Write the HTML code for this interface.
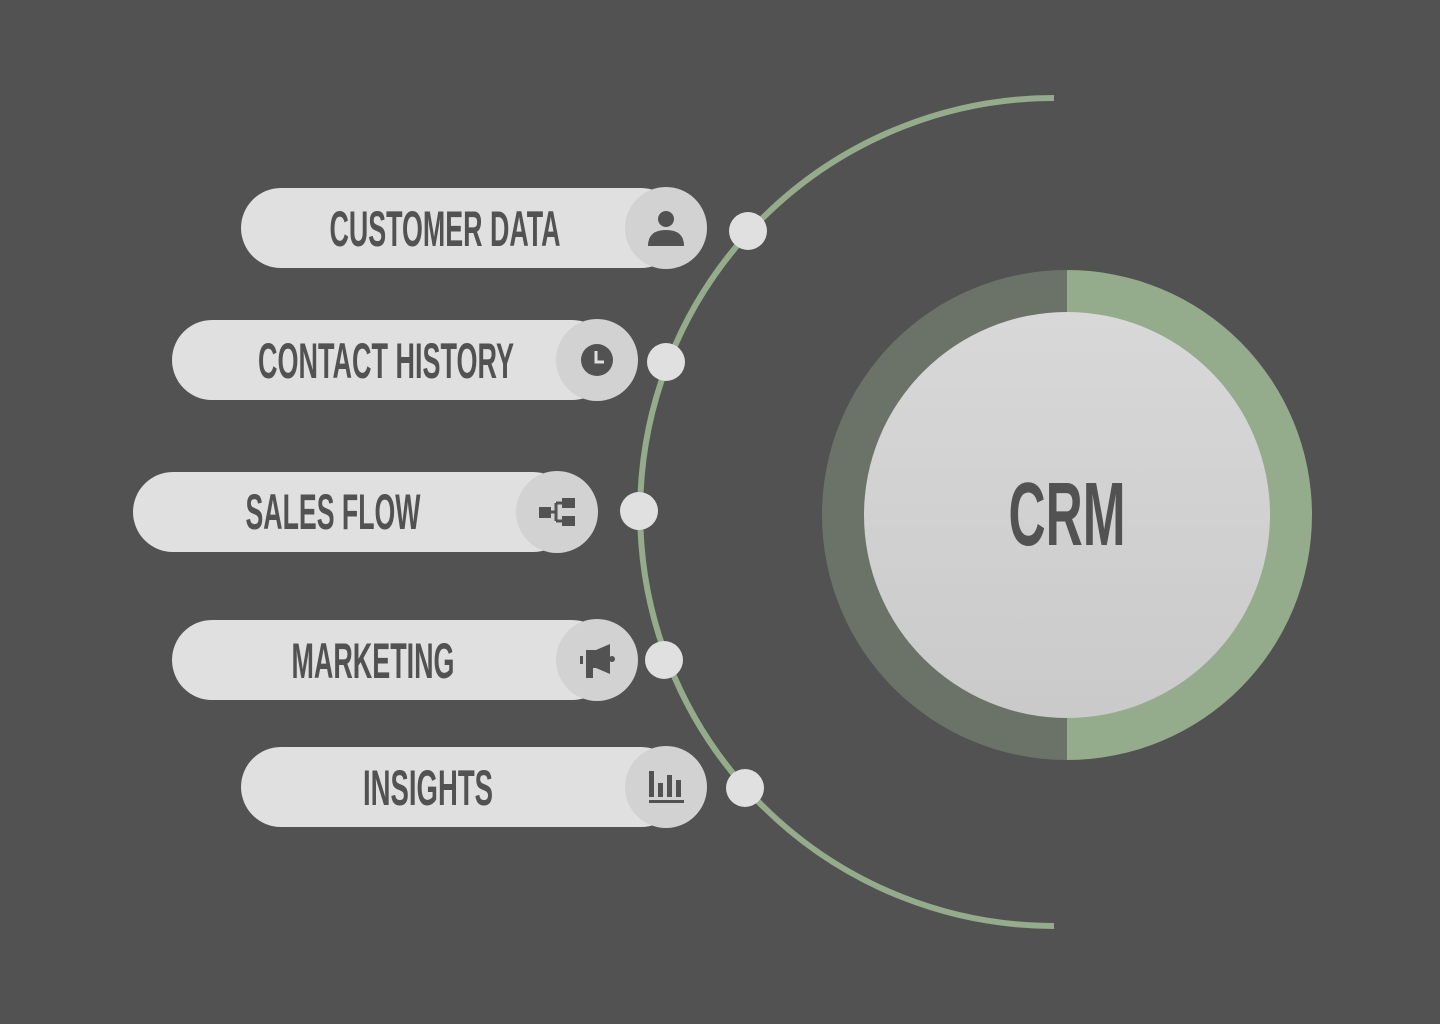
<!DOCTYPE html>
<html><head><meta charset="utf-8"><style>html,body{margin:0;padding:0;background:#525252;}svg{display:block}</style></head>
<body>
<svg width="1440" height="1024" viewBox="0 0 1440 1024" xmlns="http://www.w3.org/2000/svg">
<defs><linearGradient id="g" x1="0" y1="0" x2="0" y2="1"><stop offset="0" stop-color="#d8d8d8"/><stop offset="1" stop-color="#cacaca"/></linearGradient></defs>
<rect width="1440" height="1024" fill="#525252"/>
<path d="M1054 98 A414 414 0 0 0 1054 926" fill="none" stroke="#94ab8c" stroke-width="6"/>
<path d="M1067 270 A245 245 0 0 0 1067 760 Z" fill="#6b7369"/>
<path d="M1067 270 A245 245 0 0 1 1067 760 Z" fill="#94ab8c"/>
<circle cx="1067" cy="515" r="203" fill="url(#g)"/>
<text x="1067" y="545" text-anchor="middle" font-family="Liberation Sans Narrow, Liberation Sans, sans-serif" font-weight="bold" font-size="90" fill="#525252" textLength="117" lengthAdjust="spacingAndGlyphs">CRM</text>
<g font-family="Liberation Sans Narrow, Liberation Sans, sans-serif" font-weight="bold" font-size="50" fill="#525252" text-anchor="middle">
<!-- 1 -->
<rect x="241" y="188" width="440" height="80" rx="40" fill="#e0e0e0"/>
<circle cx="666" cy="228" r="41" fill="#d2d2d2"/>
<circle cx="748" cy="231" r="19" fill="#e0e0e0"/>
<text x="445" y="246" textLength="231" lengthAdjust="spacingAndGlyphs">CUSTOMER DATA</text>
<circle cx="666" cy="219" r="8" fill="#525252"/>
<path d="M648 246 Q648 230 666 230 Q684 230 684 246 Z" fill="#525252"/>
<!-- 2 -->
<rect x="172" y="320" width="440" height="80" rx="40" fill="#e0e0e0"/>
<circle cx="597" cy="360" r="41" fill="#d2d2d2"/>
<circle cx="666" cy="362" r="19" fill="#e0e0e0"/>
<text x="386" y="378" textLength="256" lengthAdjust="spacingAndGlyphs">CONTACT HISTORY</text>
<circle cx="597" cy="360" r="16" fill="#525252"/>
<path d="M596 351 V362 H604" fill="none" stroke="#e0e0e0" stroke-width="3"/>
<!-- 3 -->
<rect x="133" y="472" width="440" height="80" rx="40" fill="#e0e0e0"/>
<circle cx="557" cy="512" r="41" fill="#d2d2d2"/>
<circle cx="639" cy="511" r="19" fill="#e0e0e0"/>
<text x="333" y="529" textLength="175" lengthAdjust="spacingAndGlyphs">SALES FLOW</text>
<rect x="539" y="507" width="12" height="11" fill="#525252"/>
<rect x="562" y="498" width="13" height="10" fill="#525252"/>
<rect x="562" y="516" width="13" height="10" fill="#525252"/>
<path d="M551 512 H556 M556 503 V521 M556 503 H562 M556 521 H562" stroke="#525252" stroke-width="3" fill="none"/>
<!-- 4 -->
<rect x="172" y="620" width="440" height="80" rx="40" fill="#e0e0e0"/>
<circle cx="597" cy="660" r="41" fill="#d2d2d2"/>
<circle cx="664" cy="660" r="19" fill="#e0e0e0"/>
<text x="373" y="678" textLength="163" lengthAdjust="spacingAndGlyphs">MARKETING</text>
<path d="M586 650 H596 L610 644 V674 L596 668 H593 V678 H586 Z" fill="#525252"/>
<rect x="580" y="656" width="3" height="8" fill="#525252"/>
<circle cx="612" cy="659" r="3" fill="#525252"/>
<!-- 5 -->
<rect x="241" y="747" width="440" height="80" rx="40" fill="#e0e0e0"/>
<circle cx="666" cy="787" r="41" fill="#d2d2d2"/>
<circle cx="745" cy="788" r="19" fill="#e0e0e0"/>
<text x="428" y="805" textLength="130" lengthAdjust="spacingAndGlyphs">INSIGHTS</text>
<rect x="649" y="771" width="5" height="26" fill="#525252"/>
<rect x="658" y="783" width="5" height="14" fill="#525252"/>
<rect x="667" y="775" width="5" height="22" fill="#525252"/>
<rect x="676" y="780" width="5" height="17" fill="#525252"/>
<rect x="649" y="800" width="35" height="3" fill="#525252"/>
</g>
</svg>
</body></html>
